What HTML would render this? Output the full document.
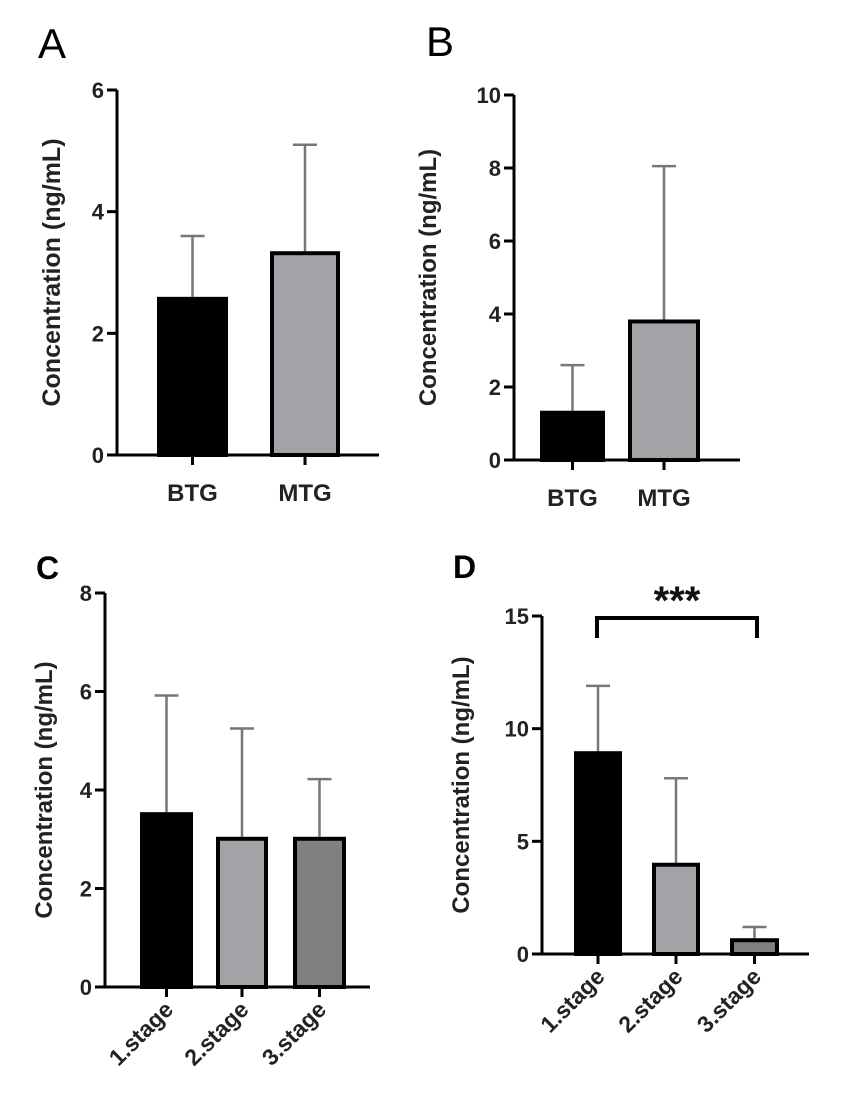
<!DOCTYPE html>
<html><head><meta charset="utf-8"><style>
body{margin:0;background:#fff;}
svg{display:block;font-family:"Liberation Sans",Arial,sans-serif;}
</style></head><body>
<svg id="c" width="849" height="1111" viewBox="0 0 849 1111">
<text x="38" y="58" font-size="42">A</text>
<text x="426" y="56" font-size="42">B</text>
<text x="36" y="579" font-size="32" font-weight="bold">C</text>
<text x="453" y="578" font-size="32" font-weight="bold">D</text>
</svg>
<script>
const catsA=["BTG","MTG"], valsA=[2.6,3.35], errA=[3.6,5.1], ticksA=[0,2,4,6];
const catsB=["BTG","MTG"], valsB=[1.35,3.85], errB=[2.6,8.05], ticksB=[0,2,4,6,8,10];
const catsC=["1.stage","2.stage","3.stage"], valsC=[3.55,3.05,3.05], errC=[5.92,5.25,4.22], ticksC=[0,2,4,6,8];
const catsD=["1.stage","2.stage","3.stage"], valsD=[9.0,4.05,0.7], errD=[11.9,7.8,1.2], ticksD=[0,5,10,15];
const svg=document.getElementById('c');
const NS="http://www.w3.org/2000/svg";
function mk(t,a,p){const e=document.createElementNS(NS,t);for(const k in a)e.setAttribute(k,a[k]);(p||svg).appendChild(e);return e;}
function panel(o){
  const g=mk('g',{});
  
  
  const max=o.ticks[o.ticks.length-1];
  const y=v=>o.y0-(o.y0-o.yTop)*v/max;
  o.cats.forEach((c,i)=>{
    const x1=o.bx[i][0],x2=o.bx[i][1],cx=(x1+x2)/2;
    const el=mk('line',{x1:cx,x2:cx,y1:y(o.vals[i]),y2:y(o.errs[i]),stroke:'#777','stroke-width':2.5},g);
    
    
    const cap=mk('line',{x1:cx-12,x2:cx+12,y1:y(o.errs[i]),y2:y(o.errs[i]),stroke:'#777','stroke-width':2.5},g);
    
    
    const r=mk('rect',{x:x1+2,y:y(o.vals[i])+2,width:x2-x1-4,height:Math.max(0,o.y0-y(o.vals[i])-2),fill:o.fills[i],stroke:'#000','stroke-width':4},g);
    
    
    mk('line',{x1:cx,x2:cx,y1:o.y0,y2:o.y0+10,stroke:'#000','stroke-width':3},g);
    let t;
    if(o.rot){t=mk('text',{x:cx+8,y:o.y0+24,'font-size':23,'font-weight':'bold','text-anchor':'end',fill:'#222',transform:`rotate(-45 ${cx+8} ${o.y0+24})`},g);}
    else{t=mk('text',{x:cx,y:o.y0+46,'font-size':24,'font-weight':'bold','text-anchor':'middle',fill:'#222'},g);}
    t.textContent=c;
    
    
  });
  const ax=mk('line',{x1:o.ax,x2:o.ax,y1:o.yTop,y2:o.y0+1.5,stroke:'#000','stroke-width':3},g);
  
  
  const xa=mk('line',{x1:o.ax-10,x2:o.xEnd,y1:o.y0,y2:o.y0,stroke:'#000','stroke-width':3},g);
  
  
  o.ticks.forEach(v=>{
    mk('line',{x1:o.ax-10,x2:o.ax,y1:y(v),y2:y(v),stroke:'#000','stroke-width':3},g);
    const t=mk('text',{x:o.ax-13,y:y(v)+8,'font-size':22,'font-weight':'bold','text-anchor':'end',fill:'#222'},g);
    t.textContent=v;
    
    
  });
  const cy=(o.y0+o.yTop)/2;
  const tt=mk('text',{x:o.tx,y:cy,'font-size':o.tfs,'font-weight':'bold','text-anchor':'middle',fill:'#222',transform:`rotate(-90 ${o.tx} ${cy})`},g);
  tt.textContent=o.title;
  
  
  return {g,y};
}
panel({name:'panel-a',cats:catsA,vals:valsA,errs:errA,ticks:ticksA,ax:117,y0:455,yTop:90,xEnd:379,bx:[[157,228],[270,340]],fills:['#000','#a3a3a7'],tx:60,tfs:25,title:'Concentration (ng/mL)'});
panel({name:'panel-b',cats:catsB,vals:valsB,errs:errB,ticks:ticksB,ax:514,y0:460,yTop:95,xEnd:740,bx:[[540,605],[628,700]],fills:['#000','#a3a3a7'],tx:436,tfs:24,title:'Concentration  (ng/mL)'});
panel({name:'panel-c',cats:catsC,vals:valsC,errs:errC,ticks:ticksC,ax:105,y0:987,yTop:593,xEnd:370,bx:[[140,193],[216,268],[293,346]],fills:['#000','#a3a3a7','#808083'],tx:52,tfs:24,title:'Concentration  (ng/mL)',rot:true});
panel({name:'panel-d',cats:catsD,vals:valsD,errs:errD,ticks:ticksD,ax:542,y0:954,yTop:616,xEnd:809,bx:[[574,622],[652,700],[730,779]],fills:['#000','#a3a3a7','#808083'],tx:469,tfs:24,title:'Concentration   (ng/mL)',rot:true});
const br=mk('path',{d:'M597 638 V618 H757 V638',fill:'none',stroke:'#000','stroke-width':4});


const st=mk('text',{x:677,y:614,'font-size':40,'font-weight':'bold','text-anchor':'middle',fill:'#111'});
st.textContent='***';


</script>
</body></html>
